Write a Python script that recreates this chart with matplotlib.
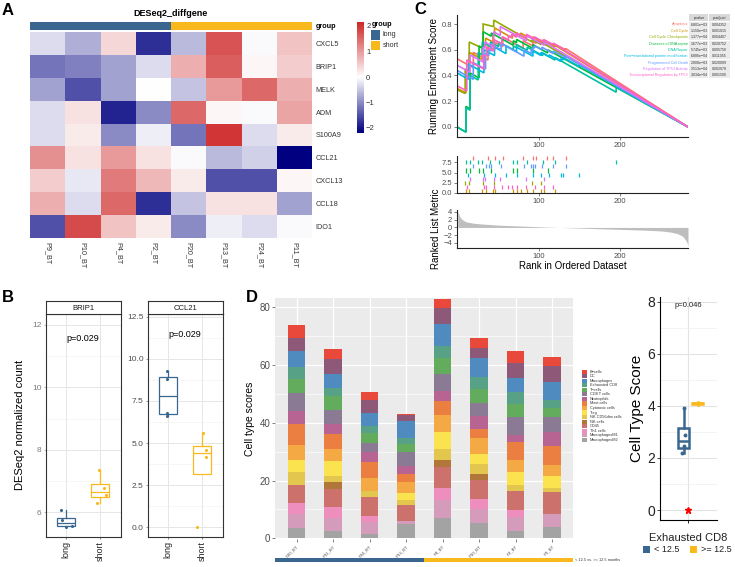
import numpy as np
import matplotlib
matplotlib.use("Agg")
import matplotlib.pyplot as plt
from matplotlib.colors import LinearSegmentedColormap, TwoSlopeNorm, ListedColormap
from matplotlib.patches import Rectangle

plt.rcParams['font.family'] = ['Liberation Sans', 'DejaVu Sans']

# ---------------- DATA ----------------
# Panel A heatmap (row z-scores)
heat_genes = ["CXCL5", "BRIP1", "MELK", "ADM", "S100A9", "CCL21", "CXCL13", "CCL18", "IDO1"]
heat_samples = ["P9_BT", "P10_BT", "P4_BT", "P2_BT", "P20_BT", "P13_BT", "P24_BT", "P11_BT"]
heat_groups = ["long", "long", "long", "long", "short", "short", "short", "short"]
heat_z = [
    [-0.3, -0.7, 0.4, -1.8, -0.6, 1.7, -0.05, 0.6],
    [-1.2, -1.1, -0.8, -0.3, 0.8, 1.6, 0.1, 0.5],
    [-0.8, -1.5, -0.8, 0.0, -0.5, 1.0, 1.5, 0.8],
    [-0.3, 0.3, -1.9, -1.0, 1.5, 0.1, -0.05, 0.9],
    [-0.3, 0.2, -1.0, -0.15, -1.2, 2.0, -0.3, 0.2],
    [1.1, 0.3, 1.0, 0.3, -0.05, -0.6, -0.4, -2.3],
    [0.5, -0.2, 1.3, 0.7, 0.2, -1.5, -1.5, 0.1],
    [0.8, -0.3, 1.5, -1.8, -0.5, 0.3, 0.3, -0.8],
    [-1.5, 1.8, 0.6, 0.2, -1.0, -0.15, -0.3, -0.05],
]

# Panel B
brip1_long = [6.07, 5.75, 5.57, 5.52]
brip1_short = [7.35, 6.78, 6.55, 6.30]
ccl21_long = [9.3, 8.8, 6.8, 6.6]
ccl21_short = [5.6, 4.6, 4.2, 0.0]
b_groups = ["long", "short"]
b_pvalue = "p=0.029"

# Panel C (GSEA)
gsea_sets = ["Apoptosis", "Cell Cycle", "Cell Cycle Checkpoints", "Diseases of DNA repair",
             "DNA Repair", "Post\u2212translational protein modification", "Programmed Cell Death",
             "Regulation of TP53 Activity", "Transcriptional Regulation by TP53"]
gsea_pvalue = ["6.801e\u221203", "1.150e\u221203", "1.377e\u221204", "1.677e\u221203", "5.745e\u221203",
               "6.806e\u221204", "2.000e\u221203", "2.513e\u221204", "3.034e\u221204"]
gsea_padjust = ["0.004352", "0.001015", "0.004407", "0.028752", "0.005750",
                "0.011055", "0.020009", "0.002078", "0.001500"]
gsea_start = [0.53, 0.30, 0.29, 0.00, 0.00, 0.42, 0.44, 0.48, 0.32]
gsea_hits = [
    [20, 38, 46, 56, 81, 93, 97, 110, 118, 133],
    [11, 15, 31, 35, 44, 46, 68, 73, 78, 86, 93, 103, 107, 120],
    [10, 15, 32, 45, 92, 103],
    [11, 16, 27, 32, 42, 69, 73, 93, 111],
    [11, 16, 26, 31, 41, 51, 69, 73, 86, 105, 120, 195],
    [14, 33, 46, 60, 73, 93, 103, 113, 127, 130, 150],
    [20, 35, 39, 42, 54, 82, 91, 93, 95, 104, 118, 133],
    [16, 32, 34, 45, 53, 85, 107],
    [12, 33, 36, 45, 55, 63, 67, 73, 85, 95, 106, 118],
]
gsea_es_before = [
    [0.46, 0.52, 0.60, 0.625, 0.61, 0.63, 0.65, 0.635, 0.63, 0.60],
    [0.265, 0.385, 0.525, 0.625, 0.66, 0.713, 0.69, 0.70, 0.71, 0.70, 0.685, 0.665, 0.66, 0.625],
    [0.26, 0.43, 0.61, 0.78, 0.66, 0.64],
    [-0.04, 0.14, 0.38, 0.61, 0.705, 0.635, 0.655, 0.61, 0.575],
    [-0.04, 0.13, 0.365, 0.56, 0.625, 0.625, 0.60, 0.615, 0.595, 0.555, 0.52, 0.27],
    [0.37, 0.42, 0.555, 0.57, 0.585, 0.55, 0.555, 0.545, 0.51, 0.52, 0.47],
    [0.37, 0.45, 0.555, 0.59, 0.60, 0.55, 0.57, 0.595, 0.613, 0.60, 0.57, 0.54],
    [0.425, 0.505, 0.613, 0.62, 0.71, 0.67, 0.635],
    [0.28, 0.45, 0.55, 0.59, 0.645, 0.672, 0.696, 0.70, 0.69, 0.685, 0.66, 0.64],
]
gsea_es_after = [
    [0.58, 0.63, 0.66, 0.70, 0.67, 0.665, 0.68, 0.66, 0.65, 0.61],
    [0.40, 0.58, 0.64, 0.69, 0.72, 0.77, 0.72, 0.73, 0.73, 0.71, 0.70, 0.675, 0.67, 0.635],
    [0.45, 0.66, 0.80, 0.83, 0.68, 0.66],
    [0.16, 0.42, 0.63, 0.74, 0.73, 0.67, 0.68, 0.64, 0.60],
    [0.15, 0.40, 0.58, 0.66, 0.66, 0.66, 0.63, 0.64, 0.62, 0.575, 0.54, 0.31],
    [0.49, 0.60, 0.62, 0.63, 0.62, 0.59, 0.58, 0.56, 0.53, 0.54, 0.48],
    [0.50, 0.57, 0.60, 0.64, 0.65, 0.60, 0.60, 0.62, 0.63, 0.62, 0.59, 0.55],
    [0.56, 0.62, 0.66, 0.74, 0.78, 0.71, 0.66],
    [0.52, 0.56, 0.62, 0.68, 0.70, 0.71, 0.72, 0.73, 0.72, 0.70, 0.68, 0.65],
]
gsea_rug_row = [8, 0, 2, 5, 7, 4, 6, 3, 1]
n_genes = 283
rank_pos = [1, 2, 3, 5, 8, 12, 20, 30, 50, 80, 110, 140, 170, 200, 230, 250, 262, 270, 276, 280, 282, 283]
rank_metric = [4.3, 3.6, 3.0, 2.3, 1.8, 1.4, 1.1, 0.9, 0.6, 0.35, 0.1, -0.1, -0.3, -0.5, -0.7,
               -0.9, -1.2, -1.6, -2.2, -3.2, -4.0, -4.8]

# Panel D (stacked cell type scores)
d_samples = ["P20_BT", "P11_BT", "P24_BT", "P13_BT", "P4_BT", "P10_BT", "P2_BT", "P9_BT"]
d_groups = ["< 12.5", "< 12.5", "< 12.5", "< 12.5", ">= 12.5", ">= 12.5", ">= 12.5", ">= 12.5"]
macrophages_m2 = [3.46, 2.54, 1.50, 4.97, 7.16, 5.20, 2.66, 4.04]
macrophages_m1 = [5.08, 4.62, 4.27, 1.15, 6.12, 4.97, 4.85, 4.39]
th1_cells = [3.81, 3.81, 2.08, 0.00, 4.27, 3.46, 2.31, 0.00]
cd45 = [6.24, 6.12, 6.35, 5.31, 7.04, 6.47, 6.58, 7.62]
nk_cells = [0.00, 2.42, 0.00, 0.00, 2.54, 2.08, 0.00, 0.00]
nk_cd56dim = [4.27, 2.08, 2.31, 1.85, 3.70, 3.70, 2.19, 1.27]
treg = [4.27, 5.20, 0.00, 2.31, 5.89, 3.46, 4.39, 4.39]
cytotoxic = [5.20, 4.27, 4.27, 3.93, 6.00, 5.43, 4.16, 3.70]
mast_cells = [7.27, 5.08, 5.54, 2.89, 4.85, 3.23, 6.12, 6.70]
neutrophils = [4.50, 3.46, 3.70, 2.77, 3.58, 4.50, 2.54, 4.85]
cd8_t_cells = [6.12, 4.85, 2.89, 4.62, 5.66, 4.27, 6.12, 5.20]
t_cells = [4.85, 4.85, 3.46, 3.00, 5.54, 5.08, 4.62, 3.12]
exhausted_cd8 = [4.16, 2.89, 2.54, 2.08, 4.27, 4.04, 4.16, 2.66]
macrophages = [5.66, 4.73, 4.39, 5.77, 7.62, 6.58, 4.97, 6.12]
dc = [4.62, 5.20, 4.62, 1.96, 5.43, 3.46, 5.08, 5.77]
b_cells = [4.39, 3.46, 2.66, 0.35, 3.12, 3.35, 4.16, 2.89]

# Right panel (Exhausted CD8 box)
exh_lt = [3.90, 2.88, 2.45, 2.20]
exh_ge = [4.02, 4.08, 4.12, 4.15]
exh_outlier = [0.0]
exh_pvalue = "p=0.046"

# ---------------- STYLE ----------------
BLUE = "#3A6790"
GOLD = "#F9B81B"
W, H = 735, 567
fig = plt.figure(figsize=(W / 100, H / 100), dpi=100)


def ax_px(x0, y0, x1, y1):
    return fig.add_axes([x0 / W, 1 - y1 / H, (x1 - x0) / W, (y1 - y0) / H])


# ================= Panel A =================
cmap = LinearSegmentedColormap.from_list("nwf", ["#000080", "#FFFFFF", "#CD2626"])
norm = TwoSlopeNorm(vcenter=0, vmin=-2.2, vmax=2.16)
axA = ax_px(30, 31.7, 312.3, 238.3)
Z = np.array(heat_z)
im = axA.pcolormesh(np.arange(len(heat_samples) + 1), np.arange(len(heat_genes) + 1), Z,
                    cmap=cmap, norm=norm, edgecolor="none")
axA.set_xlim(0, len(heat_samples))
axA.set_ylim(len(heat_genes), 0)
axA.set_xticks(np.arange(len(heat_samples)) + 0.5)
axA.set_xticklabels(heat_samples, rotation=270, fontsize=5.2, color="#333333")
axA.yaxis.tick_right()
axA.set_yticks(np.arange(len(heat_genes)) + 0.5)
axA.set_yticklabels(heat_genes, fontsize=5.2, color="#333333")
axA.tick_params(length=0, pad=2.5)
for s in axA.spines.values():
    s.set_visible(False)

axG = ax_px(30, 22, 312.3, 30)
gidx = np.array([[0 if g == "long" else 1 for g in heat_groups]])
axG.pcolormesh(gidx, cmap=ListedColormap([BLUE, GOLD]), vmin=0, vmax=1)
axG.set_xticks([])
axG.yaxis.tick_right()
axG.set_yticks([0.5])
axG.set_yticklabels(["group"], fontsize=5.2, fontweight="bold")
axG.tick_params(length=0, pad=2.5)
for s in axG.spines.values():
    s.set_visible(False)

cax = ax_px(356.7, 21.7, 364, 132.7)
cb = fig.colorbar(im, cax=cax, ticks=[-2, -1, 0, 1, 2])
cb.outline.set_visible(False)
cb.ax.tick_params(labelsize=5.5, length=0, width=0.5, colors="#333333", pad=1.5)
cb.ax.set_yticklabels(["\u22122", "\u22121", "0", "1", "2"])

# ================= Panel C =================
gsea_colors = ["#F8766D", "#D39200", "#93AA00", "#00BA38", "#00C19F",
               "#00B9E3", "#619CFF", "#DB72FB", "#FF61C3"]
tick_col = "#4D4D4D"


def style_c(ax):
    for s in ["top", "right"]:
        ax.spines[s].set_visible(False)
    for s in ["left", "bottom"]:
        ax.spines[s].set_linewidth(0.8)
        ax.spines[s].set_color("#222222")
    ax.tick_params(labelsize=5.5, colors=tick_col, length=2, width=0.5, pad=1.5)
    ax.set_xlim(0, n_genes)
    ax.set_xticks([100, 200])


axC1 = ax_px(457, 15, 688, 137)
for i in range(len(gsea_sets)):
    xs = [0]
    ys = [gsea_start[i]]
    for h, b, a in zip(gsea_hits[i], gsea_es_before[i], gsea_es_after[i]):
        xs += [h, h]
        ys += [b, a]
    xs.append(n_genes)
    ys.append(0)
    axC1.plot(xs, ys, color=gsea_colors[i], lw=1.2, solid_joinstyle="miter")
style_c(axC1)
axC1.set_ylim(-0.078, 0.87)
axC1.set_yticks([0, 0.2, 0.4, 0.6, 0.8])
axC1.set_yticklabels(["0.0", "0.2", "0.4", "0.6", "0.8"])
axC1.set_ylabel("Running Enrichment Score", fontsize=7, labelpad=2)

axC2 = ax_px(457, 156, 688, 193)
for i in range(len(gsea_sets)):
    r = gsea_rug_row[i]
    axC2.vlines(gsea_hits[i], r, r + 1, color=gsea_colors[i], lw=0.9)
style_c(axC2)
axC2.set_ylim(0, 9.05)
axC2.set_yticks([0, 2.5, 5, 7.5])
axC2.set_yticklabels(["0.0", "2.5", "5.0", "7.5"])

axC3 = ax_px(457, 210, 688, 248)
axC3.fill_between(rank_pos, 0, rank_metric, color="#BEBEBE", lw=0)
style_c(axC3)
axC3.set_ylim(-5.3, 4.5)
axC3.set_yticks([-4, -2, 0, 2, 4])
axC3.set_yticklabels(["\u22124", "\u22122", "0", "2", "4"])
axC3.set_ylabel("Ranked List Metric", fontsize=7, labelpad=2)
axC3.set_xlabel("Rank in Ordered Dataset", fontsize=7, labelpad=1)

# ================= Panel B =================
def style_b(ax, ylim, major, minor, labels, lab_col):
    ax.set_xlim(0.4, 2.6)
    ax.set_ylim(*ylim)
    ax.set_yticks(major)
    ax.set_yticklabels(labels)
    ax.set_yticks(minor, minor=True)
    ax.set_xticks([1, 2])
    ax.set_xticklabels(b_groups, rotation=90)
    ax.grid(True, which="major", color="#E6E6E6", lw=0.7)
    ax.grid(True, which="minor", color="#F0F0F0", lw=0.4)
    ax.set_axisbelow(True)
    ax.tick_params(axis="y", labelsize=6, colors=lab_col, length=1.5, width=0.4, pad=1.5)
    ax.tick_params(axis="x", labelsize=6.5, colors="#222222", length=1.5, width=0.4, pad=1.5)
    ax.tick_params(which="minor", length=0)
    for s in ax.spines.values():
        s.set_linewidth(0.8)
        s.set_color("#333333")


def draw_box(ax, vals, pos, color, width, lw, jit, ms):
    ax.boxplot([vals], positions=[pos], widths=width, whis=1.5, showfliers=False,
               patch_artist=True, manage_ticks=False,
               boxprops=dict(facecolor="white", edgecolor=color, linewidth=lw),
               medianprops=dict(color=color, linewidth=lw),
               whiskerprops=dict(color=color, linewidth=lw),
               capprops=dict(visible=False))
    ax.scatter(np.array(jit) + pos, vals, s=ms, color=color, zorder=5, lw=0)


def strip(x0, x1, label):
    sa = ax_px(x0, 300.7, x1, 314)
    sa.set_xticks([])
    sa.set_yticks([])
    sa.set_facecolor("white")
    for s in sa.spines.values():
        s.set_linewidth(0.8)
        s.set_color("#333333")
    sa.text(0.5, 0.45, label, ha="center", va="center", fontsize=5.5, color="#1A1A1A",
            transform=sa.transAxes)


axB1 = ax_px(45.7, 314, 120.7, 536.7)
draw_box(axB1, brip1_long, 1, BLUE, 0.52, 0.9, [-0.16, -0.13, 0.16, 0.01], 5)
draw_box(axB1, brip1_short, 2, GOLD, 0.52, 0.9, [-0.03, 0.12, 0.17, -0.1], 5)
style_b(axB1, (5.22, 12.35), [6, 8, 10, 12], [7, 9, 11], ["6", "8", "10", "12"], "#7A7A7A")
axB1.text(1.5, 11.55, b_pvalue, ha="center", va="center", fontsize=6.5)
axB1.set_ylabel("DESeq2 normalized count", fontsize=8, labelpad=5)
strip(45.7, 120.7, "BRIP1")

axB2 = ax_px(147.7, 314, 222.7, 536.7)
draw_box(axB2, ccl21_long, 1, BLUE, 0.52, 0.9, [-0.04, -0.02, -0.03, -0.04], 5)
draw_box(axB2, ccl21_short, 2, GOLD, 0.52, 0.9, [0.02, 0.12, 0.1, -0.15], 5)
style_b(axB2, (-0.56, 12.66), [0, 2.5, 5, 7.5, 10, 12.5], [1.25, 3.75, 6.25, 8.75, 11.25],
        ["0.0", "2.5", "5.0", "7.5", "10.0", "12.5"], "#4D4D4D")
axB2.text(1.5, 11.45, b_pvalue, ha="center", va="center", fontsize=6.5)
strip(147.7, 222.7, "CCL21")

# ================= Panel D =================
stack_names = ["MacrophagesM2", "MacrophagesM1", "Th1 cells", "CD45", "NK cells", "NK CD56dim cells",
               "Treg", "Cytotoxic cells", "Mast cells", "Neutrophils", "CD8 T cells", "T\u2212cells",
               "Exhausted CD8", "Macrophages", "DC", "B\u2212cells"]
stack_vals = [macrophages_m2, macrophages_m1, th1_cells, cd45, nk_cells, nk_cd56dim, treg, cytotoxic,
              mast_cells, neutrophils, cd8_t_cells, t_cells, exhausted_cd8, macrophages, dc, b_cells]
stack_cols = ["#A3A3A3", "#D59BBB", "#EE8EBE", "#CD716D", "#B1773A", "#E2C64E", "#FBE24F", "#F5A945",
              "#EA7F41", "#B76492", "#8B7A93", "#63AC5D", "#57A287", "#4F8BBF", "#8E5878", "#E8493A"]

axD = ax_px(275, 298.3, 573.3, 539.3)
axD.set_facecolor("#EBEBEB")
xpos = np.arange(1, len(d_samples) + 1)
bottom = np.zeros(len(d_samples))
for vals, col in zip(stack_vals, stack_cols):
    v = np.array(vals)
    axD.bar(xpos, v, bottom=bottom, width=0.48, color=col, lw=0, zorder=3)
    bottom += v
axD.set_xlim(0.41, 8.58)
axD.set_ylim(-0.35, 83.1)
axD.set_yticks([0, 20, 40, 60, 80])
axD.set_yticks([10, 30, 50, 70], minor=True)
axD.set_xticks(xpos)
axD.set_xticklabels(d_samples, rotation=45, ha="right", rotation_mode="anchor", fontsize=3.2,
                    color="#4D4D4D")
axD.grid(True, which="major", color="white", lw=0.9)
axD.grid(True, which="minor", axis="y", color="white", lw=0.45)
axD.set_axisbelow(True)
axD.tick_params(axis="y", labelsize=7, colors="#4D4D4D", length=2, width=0.5, pad=1.5)
axD.tick_params(axis="x", length=2, width=0.5, pad=1.5, colors="#4D4D4D")
axD.tick_params(which="minor", length=0)
for s in axD.spines.values():
    s.set_visible(False)
axD.set_ylabel("Cell type scores", fontsize=7.5, labelpad=3)

axDg = ax_px(275, 557.7, 573.3, 561.7)
dg = np.array([[0 if g == "< 12.5" else 1 for g in d_groups]])
axDg.pcolormesh(dg, cmap=ListedColormap([BLUE, GOLD]), vmin=0, vmax=1)
axDg.set_xticks([])
axDg.set_yticks([])
for s in axDg.spines.values():
    s.set_visible(False)

# ================= Right panel =================
axE = ax_px(660, 296.7, 716.7, 520)
axE.set_xlim(0.4, 1.6)
axE.set_ylim(-0.38, 8.19)
axE.set_yticks([0, 2, 4, 6, 8])
axE.set_yticks([1, 3, 5, 7], minor=True)
axE.set_xticks([1])
axE.set_xticklabels([""])
axE.grid(True, which="major", color="#E3E3E3", lw=0.8)
axE.grid(True, which="minor", axis="y", color="#EFEFEF", lw=0.5)
axE.set_axisbelow(True)
draw_box(axE, exh_lt, 0.9, BLUE, 0.24, 1.8, [0.0, 0.02, 0.0, -0.03], 8)
axE.boxplot([exh_ge], positions=[1.2], widths=0.24, showfliers=False, patch_artist=True,
            manage_ticks=False,
            boxprops=dict(facecolor=GOLD, edgecolor=GOLD, linewidth=1.8),
            medianprops=dict(color=GOLD, linewidth=1.8),
            whiskerprops=dict(color=GOLD, linewidth=1.8), capprops=dict(visible=False))
axE.plot([1.0] * len(exh_outlier), exh_outlier, marker="*", color="red", ms=5, ls="none", zorder=6)
axE.tick_params(axis="y", labelsize=10, colors="#222222", length=2, width=0.6, pad=1.5)
axE.tick_params(axis="x", length=2, width=0.6)
axE.tick_params(which="minor", length=0)
for s in ["top", "right"]:
    axE.spines[s].set_visible(False)
for s in ["left", "bottom"]:
    axE.spines[s].set_linewidth(0.8)
axE.set_ylabel("Cell Type Score", fontsize=11, labelpad=2)
axE.set_xlabel("Exhausted CD8", fontsize=8, labelpad=4, color="#222222")
axE.text(1.0, 7.85, exh_pvalue, ha="center", va="center", fontsize=5.5, color="#222222")

# ================= Overlay texts =================
axO = fig.add_axes([0, 0, 1, 1])
axO.set_xlim(0, W)
axO.set_ylim(H, 0)
axO.axis("off")

for lab, x, y in [("A", 2, 3), ("B", 2, 290), ("C", 414, 2), ("D", 246, 290)]:
    axO.text(x, y, lab, fontsize=12, fontweight="bold", ha="left", va="top")

axO.text(171, 13.5, "DESeq2_diffgene", fontsize=6.5, fontweight="bold", ha="center", va="center")

# group legend for A
axO.text(372, 24.5, "group", fontsize=5.2, fontweight="bold", ha="left", va="center")
axO.add_patch(Rectangle((371, 30), 9.5, 9.5, color=BLUE, lw=0))
axO.add_patch(Rectangle((371, 40.5), 9.5, 9.5, color=GOLD, lw=0))
axO.text(383, 35, "long", fontsize=5.2, ha="left", va="center", color="#333333")
axO.text(383, 45.5, "short", fontsize=5.2, ha="left", va="center", color="#333333")

# GSEA table
axO.add_patch(Rectangle((689.5, 14), 19, 7, color="#D9D9D9", lw=0))
axO.add_patch(Rectangle((709, 14), 21, 7, color="#D9D9D9", lw=0))
axO.text(699, 17.5, "pvalue", fontsize=2.8, ha="center", va="center", color="#333333")
axO.text(719.5, 17.5, "p.adjust", fontsize=2.8, ha="center", va="center", color="#333333")
for i in range(len(gsea_sets)):
    y = 24.5 + i * 6.34
    axO.add_patch(Rectangle((689.5, y - 3), 19, 6.0, color="#EBEBEB", lw=0))
    axO.add_patch(Rectangle((709, y - 3), 21, 6.0, color="#EBEBEB", lw=0))
    axO.text(688, y, gsea_sets[i], fontsize=2.7, ha="right", va="center", color=gsea_colors[i])
    axO.text(699, y, gsea_pvalue[i], fontsize=2.6, ha="center", va="center", color="#333333")
    axO.text(719.5, y, gsea_padjust[i], fontsize=2.6, ha="center", va="center", color="#333333")

# D legend
for i, idx in enumerate(range(len(stack_names) - 1, -1, -1)):
    y = 369.5 + i * 4.55
    axO.add_patch(Rectangle((582, y), 5.5, 4.2, color=stack_cols[idx], lw=0))
    axO.text(590, y + 2.1, stack_names[idx], fontsize=2.8, ha="left", va="center", color="#333333")

axO.text(575, 559.7, "< 12.5 vs. >= 12.5 months", fontsize=2.8, ha="left", va="center", color="#333333")

# Right legend
axO.add_patch(Rectangle((643, 545.5), 7.5, 7, color=BLUE, lw=0))
axO.add_patch(Rectangle((690, 545.5), 7.5, 7, color=GOLD, lw=0))
axO.text(654, 549, "< 12.5", fontsize=6.5, ha="left", va="center", color="#222222")
axO.text(701, 549, ">= 12.5", fontsize=6.5, ha="left", va="center", color="#222222")

fig.savefig("out.png", dpi=100)
